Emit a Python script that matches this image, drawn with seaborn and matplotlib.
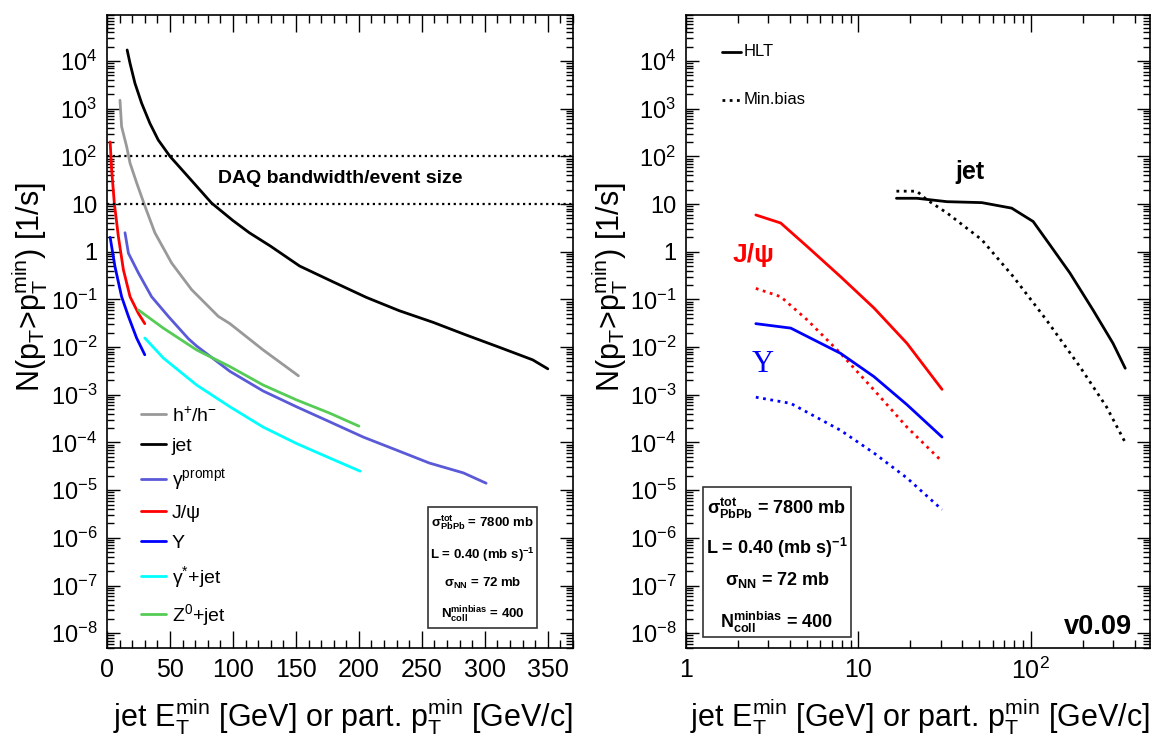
import numpy as np
import pandas as pd
import seaborn as sns
from matplotlib import pyplot as plt
from matplotlib.ticker import FixedLocator, LogLocator, MultipleLocator, NullFormatter

# ---- left panel: integrated rates vs threshold ----
h_x = [10.3, 11.6, 15.6, 18.3, 23.5, 30.2, 38, 51.3, 67.2, 88.4, 97.6, 112, 124, 152]
h_y = [1.5e3, 4.2e2, 1.6e2, 72, 28, 8.9, 2.5, 0.58, 0.16, 0.044, 0.031, 0.0155, 0.0087, 0.0025]

jet_x = [16, 18.3, 22.2, 27.5, 34.1, 40.7, 50, 64.6, 83, 100, 113, 130, 153, 180, 206, 232, 259, 285, 312, 338, 350]
jet_y = [1.7e4, 8.9e3, 3.4e3, 1.3e3, 4.9e2, 2.2e2, 100, 37, 10.5, 4.5, 2.5, 1.3, 0.5, 0.23, 0.11, 0.058, 0.033,
         0.018, 0.0098, 0.0054, 0.0035]

gp_x = [14.3, 17, 24.9, 35.4, 48.7, 64.6, 71.2, 97.6, 124, 150.5, 177, 203.4, 230, 256, 283, 301]
gp_y = [2.5, 0.93, 0.36, 0.114, 0.044, 0.015, 0.0105, 3.1e-3, 1.2e-3, 5.6e-4, 2.7e-4, 1.3e-4, 6.9e-5, 3.7e-5,
        2.3e-5, 1.4e-5]

jpsi_x = [2.5, 3.7, 5.8, 9, 13, 18.3, 24.9, 30]
jpsi_y = [200, 52, 10.5, 2.1, 0.42, 0.114, 0.051, 0.031]

ups_x = [2.5, 6.3, 11.6, 17, 23.5, 30]
ups_y = [2.0, 0.49, 0.114, 0.044, 0.0155, 0.0069]

gj_x = [30, 44.7, 71.2, 97.6, 124, 150.5, 177, 201]
gj_y = [0.0155, 5.9e-3, 1.6e-3, 5.6e-4, 2.1e-4, 9.5e-5, 4.7e-5, 2.5e-5]

z_x = [25, 30, 44.7, 71.2, 97.6, 124, 150.5, 177, 200]
z_y = [0.06, 0.048, 0.025, 0.0087, 3.9e-3, 1.6e-3, 7.8e-4, 4.1e-4, 2.2e-4]

daq_levels = [100, 10]

# ---- right panel: HLT vs min. bias ----
jpsi_hlt_x = [2.54, 3.54, 5.05, 7.87, 12.3, 19.1, 30.5]
jpsi_hlt_y = [5.9, 4.0, 1.28, 0.30, 0.066, 0.012, 1.3e-3]
jpsi_mb_x = [2.54, 3.54, 5.05, 7.87, 12.3, 19.1, 30.5]
jpsi_mb_y = [0.17, 0.114, 0.037, 7.4e-3, 1.26e-3, 2.1e-4, 4e-5]

ups_hlt_x = [2.54, 4.05, 7.87, 12.3, 19.1, 30.5]
ups_hlt_y = [0.031, 0.025, 7.4e-3, 2.4e-3, 6.2e-4, 1.3e-4]
ups_mb_x = [2.54, 4.05, 7.87, 12.3, 19.1, 30.5]
ups_mb_y = [8.9e-4, 6.6e-4, 1.8e-4, 6e-5, 1.8e-5, 3.9e-6]

jet_hlt_x = [16.6, 21.8, 32.6, 51.9, 77.3, 103, 129, 168, 229, 299, 352]
jet_hlt_y = [13.2, 13.2, 11.2, 10.7, 8.2, 4.3, 1.38, 0.36, 0.06, 0.012, 3.6e-3]
jet_mb_x = [16.6, 21.8, 24.9, 32.6, 51.9, 79, 123, 192, 274, 352]
jet_mb_y = [18.6, 18.6, 12.3, 6.5, 1.78, 0.30, 0.037, 3.9e-3, 5.6e-4, 1e-4]

left_series = [
    ('h$^{+}$/h$^{-}$', h_x, h_y, '#999999'),
    ('jet', jet_x, jet_y, 'black'),
    ('γ$^{prompt}$', gp_x, gp_y, '#5a5ad8'),
    ('J/ψ', jpsi_x, jpsi_y, '#ff0000'),
    ('Υ', ups_x, ups_y, '#0000ff'),
    ('γ$^{*}$+jet', gj_x, gj_y, '#00ffff'),
    ('Z$^{0}$+jet', z_x, z_y, '#55cc55'),
]

right_series = [
    (jpsi_hlt_x, jpsi_hlt_y, '#ff0000', '-'),
    (jpsi_mb_x, jpsi_mb_y, '#ff0000', ':'),
    (ups_hlt_x, ups_hlt_y, '#0000ff', '-'),
    (ups_mb_x, ups_mb_y, '#0000ff', ':'),
    (jet_hlt_x, jet_hlt_y, 'black', '-'),
    (jet_mb_x, jet_mb_y, 'black', ':'),
]

sns.set_style("ticks")
plt.rcParams['font.family'] = ['Liberation Sans', 'DejaVu Sans']
plt.rcParams['mathtext.default'] = 'regular'
for key in ['text.color', 'axes.labelcolor', 'xtick.color', 'ytick.color', 'axes.edgecolor']:
    plt.rcParams[key] = 'black'

px = 1/100
fig = plt.figure(figsize=(1153*px, 740*px), dpi=100)
ax1 = fig.add_axes([107/1153, 1-648/740, 466/1153, 633/740])
ax2 = fig.add_axes([686/1153, 1-648/740, 464/1153, 633/740])

dots = (0, (1, 1.6))
ylab = 'N(p$_{T}$>p$_{T}^{min}$) [1/s]'
xlab = 'jet E$_{T}^{min}$ [GeV] or part. p$_{T}^{min}$ [GeV/c]'

# left
for name, xs, ys, col in left_series:
    df = pd.DataFrame({'x': xs, 'y': ys})
    sns.lineplot(data=df, x='x', y='y', ax=ax1, color=col, lw=2, label=name, estimator=None)
for lev in daq_levels:
    ax1.axhline(lev, color='black', ls=dots, lw=1.6)
ax1.text(185, 35, 'DAQ bandwidth/event size', ha='center', va='center', fontsize=14, fontweight='bold')
ax1.set_yscale('log')
ax1.set_xlim(0, 370)
ax1.xaxis.set_major_locator(MultipleLocator(50))
ax1.xaxis.set_minor_locator(MultipleLocator(10))

leg = ax1.legend(loc='upper left', bbox_to_anchor=(0.035, 0.41), frameon=False, fontsize=14,
                 handlelength=1.3, handletextpad=0.3, labelspacing=0.62)

# right
for xs, ys, col, ls in right_series:
    df = pd.DataFrame({'x': xs, 'y': ys})
    sns.lineplot(data=df, x='x', y='y', ax=ax2, color=col, lw=2, ls=ls, estimator=None)
ax2.set_xscale('log')
ax2.set_yscale('log')
ax2.set_xlim(1, 490)
ax2.xaxis.set_major_locator(FixedLocator([1, 10, 100]))
ax2.xaxis.set_minor_locator(LogLocator(base=10, subs=np.arange(2, 10)))
ax2.xaxis.set_minor_formatter(NullFormatter())
ax2.set_xticklabels(['1', '10', '10$^{2}$'])

ax2.plot([0.0776, 0.1185], [0.9416, 0.9416], transform=ax2.transAxes, color='black', lw=2)
ax2.plot([0.0776, 0.1185], [0.866, 0.866], transform=ax2.transAxes, color='black', lw=2, ls=dots)
ax2.text(0.125, 0.9416, 'HLT', transform=ax2.transAxes, va='center', fontsize=12)
ax2.text(0.125, 0.866, 'Min.bias', transform=ax2.transAxes, va='center', fontsize=12)
ax2.text(44, 47, 'jet', ha='center', va='center', fontsize=18, fontweight='bold')
ax2.text(2.45, 0.85, 'J/ψ', ha='center', va='center', fontsize=19, fontweight='bold', color='#ff0000')
ax2.text(2.8, 4.3e-3, 'Υ', ha='center', va='center', fontsize=22, color='#0000ff', family='Liberation Serif')
ax2.text(0.961, 0.033, 'v0.09', transform=ax2.transAxes, ha='right', va='center', fontsize=19.5, fontweight='bold')

# info boxes
info = ['σ$^{tot}_{PbPb}$ = 7800 mb', 'L = 0.40 (mb s)$^{-1}$', 'σ$_{NN}$ = 72 mb', 'N$^{minbias}_{coll}$ = 400']
boxes = [
    (ax1, (0.689, 0.0316, 0.234, 0.191), 0.806, [0.1975, 0.147, 0.1027, 0.052], 9.5),
    (ax2, (0.0366, 0.0174, 0.319, 0.237), 0.196, [0.221, 0.158, 0.107, 0.041], 13),
]
for ax, rect, cx, ys, fs in boxes:
    ax.add_patch(plt.Rectangle(rect[:2], rect[2], rect[3], transform=ax.transAxes,
                               fill=False, ec='#333333', lw=1.2))
    for t, yy in zip(info, ys):
        ax.text(cx, yy, t, transform=ax.transAxes, ha='center', va='center', fontsize=fs, fontweight='bold')

ydecs = [1e-8, 1e-7, 1e-6, 1e-5, 1e-4, 1e-3, 1e-2, 1e-1, 1, 10, 1e2, 1e3, 1e4]
ylabs = ['10$^{-%d}$' % k for k in range(8, 0, -1)] + ['1', '10', '10$^{2}$', '10$^{3}$', '10$^{4}$']
for ax in (ax1, ax2):
    ax.set_ylim(4.9e-9, 9.2e4)
    ax.yaxis.set_major_locator(FixedLocator(ydecs))
    ax.yaxis.set_minor_locator(LogLocator(base=10, subs=np.arange(2, 10), numticks=30))
    ax.yaxis.set_minor_formatter(NullFormatter())
    ax.set_yticklabels(ylabs)
    ax.tick_params(axis='both', which='both', direction='in', top=True, right=True, width=1)
    ax.tick_params(axis='y', which='major', length=9.5, labelsize=17, pad=7)
    ax.tick_params(axis='y', which='minor', length=5)
    ax.tick_params(axis='x', which='major', length=12, labelsize=18, pad=7)
    ax.tick_params(axis='x', which='minor', length=6)
    for s in ax.spines.values():
        s.set_linewidth(1.2)
    ax.set_ylabel(ylab, fontsize=22, va='center')
    ax.yaxis.set_label_coords(-0.165, 0.57)
    ax.set_xlabel(xlab, fontsize=22, ha='right', va='center')
    ax.xaxis.set_label_coords(1.0, -0.109)
    ax.grid(False)

plt.savefig('out.png', dpi=100)
